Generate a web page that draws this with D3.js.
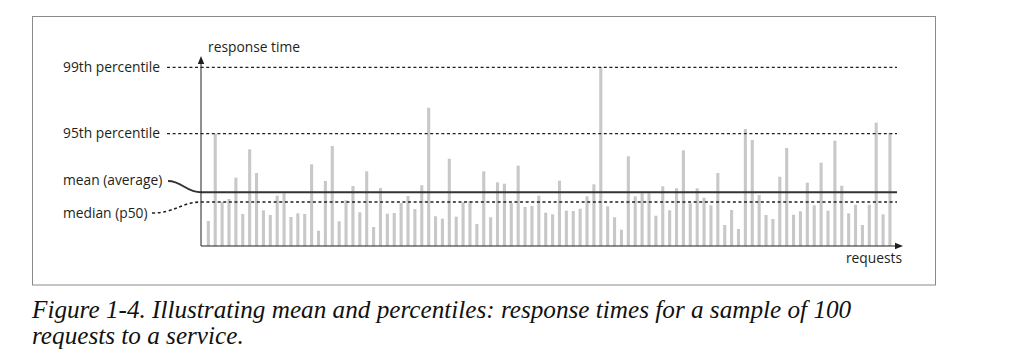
<!DOCTYPE html>
<html>
<head>
<meta charset="utf-8">
<script src="https://cdn.jsdelivr.net/npm/d3@7"></script>
<style>
  body { margin: 0; background: #fff; }
  svg { display: block; }
  .lbl { font-family: "Open Sans", sans-serif; font-size: 13.8px; fill: #231f20; }
  .caption { font-family: "Liberation Serif", serif; font-style: italic; font-size: 25.2px; fill: #111; }
</style>
</head>
<body>
<svg id="chart" width="1024" height="355"></svg>
<script>
// response times of 100 requests (arbitrary units)
const responseTimes = [
  25, 112.3, 44, 47, 68.3, 32, 96.7, 73, 35.7, 31, 50.3, 52.7, 29, 32.7, 32, 81.7, 15.3, 65, 100, 24.7, 45.7, 60, 33.7, 74.7, 19,
  58, 32.3, 33, 43, 50, 37, 60.7, 138.3, 29.7, 27.3, 87.3, 29.3, 43.7, 45, 22, 74.7, 28.7, 63.7, 62.3, 43, 80.3, 39, 40, 50.3, 33.3,
  31.7, 65.3, 35.3, 35, 37.3, 49.7, 61.7, 178.7, 39.7, 28.7, 16.3, 89.7, 49.7, 52.7, 52.7, 30.3, 59.7, 35.7, 57.7, 95.7, 42.7, 57.7, 48.3, 40.7, 73,
  21, 36, 17, 117, 106, 51, 31, 27, 69.3, 98, 31.3, 34.7, 63.3, 40.7, 83.3, 35.3, 105.3, 60.3, 32.7, 41.3, 21, 41.3, 123.3, 31.7, 112.7
];

const refNames = ["99th percentile", "95th percentile", "mean (average)", "median (p50)"];
const refValues = [178.7, 112.3, 53.7, 44];

const yTitle = "response time";
const xTitle = "requests";
const captionLines = [
  "Figure 1-4. Illustrating mean and percentiles: response times for a sample of 100",
  "requests to a service."
];

let svg = d3.select("#chart");

let x0 = 201, xEnd = 897, baseY = 246;

let x = d3.scaleBand()
  .domain(d3.range(responseTimes.length))
  .range([204.9, 893.4])
  .paddingInner(0.55)
  .paddingOuter(0.275);

let y = d3.scaleLinear()
  .domain([0, 190])
  .range([baseY, 56]);

// frame
svg.append("rect")
  .attr("x", 32.5).attr("y", 16.5)
  .attr("width", 903).attr("height", 268.5)
  .attr("fill", "none")
  .attr("stroke", "#8a8a8a")
  .attr("stroke-width", 1);

// bars
svg.append("g").selectAll("rect")
  .data(responseTimes)
  .enter()
  .append("rect")
  .attr("x", (d, i) => x(i))
  .attr("width", x.bandwidth())
  .attr("y", d => y(d))
  .attr("height", d => y(0) - y(d))
  .attr("fill", "#c8c8c8");

// percentile lines (dotted)
[0, 1].forEach(i => {
  svg.append("line")
    .attr("x1", 167).attr("x2", xEnd)
    .attr("y1", y(refValues[i])).attr("y2", y(refValues[i]))
    .attr("stroke", "#231f20")
    .attr("stroke-width", 1.3)
    .attr("stroke-dasharray", "3,2.6");
  svg.append("text")
    .attr("class", "lbl")
    .attr("x", 63)
    .attr("y", y(refValues[i]) + 4.5)
    .text(refNames[i]);
});

// mean: solid line with curved lead-in from its label
let ym = y(refValues[2]);
let pm = d3.path();
pm.moveTo(168, 181);
pm.bezierCurveTo(182, 181, 186, ym, x0, ym);
pm.lineTo(xEnd, ym);
svg.append("path")
  .attr("d", pm.toString())
  .attr("fill", "none")
  .attr("stroke", "#333")
  .attr("stroke-width", 2);
svg.append("text")
  .attr("class", "lbl")
  .attr("x", 63).attr("y", 185)
  .text(refNames[2]);

// median: dashed line with curved lead-in
let yd = y(refValues[3]);
let pd = d3.path();
pd.moveTo(152, 213);
pd.bezierCurveTo(175, 213, 182, yd, x0, yd);
pd.lineTo(xEnd, yd);
svg.append("path")
  .attr("d", pd.toString())
  .attr("fill", "none")
  .attr("stroke", "#231f20")
  .attr("stroke-width", 1.6)
  .attr("stroke-dasharray", "3,2.6");
svg.append("text")
  .attr("class", "lbl")
  .attr("x", 63).attr("y", 218)
  .text(refNames[3]);

// axes with arrowheads
let axisG = svg.append("g").attr("stroke", "#231f20").attr("fill", "none");
axisG.append("line")
  .attr("x1", x0).attr("x2", x0)
  .attr("y1", baseY).attr("y2", y(190) + 4);
axisG.append("line")
  .attr("x1", x0).attr("x2", 898)
  .attr("y1", baseY).attr("y2", baseY);
svg.append("path")
  .attr("d", `M${x0},${y(190)} L${x0 - 3.2},${y(190) + 8} L${x0 + 3.2},${y(190) + 8} Z`)
  .attr("fill", "#231f20");
svg.append("path")
  .attr("d", `M903,${baseY} L895,${baseY - 3.2} L895,${baseY + 3.2} Z`)
  .attr("fill", "#231f20");

svg.append("text")
  .attr("class", "lbl")
  .attr("x", 208).attr("y", 52)
  .text(yTitle);
svg.append("text")
  .attr("class", "lbl")
  .attr("x", 902).attr("y", 263)
  .attr("text-anchor", "end")
  .text(xTitle);

// caption
svg.append("g").selectAll("text")
  .data(captionLines)
  .enter()
  .append("text")
  .attr("class", "caption")
  .attr("x", 32)
  .attr("y", (d, i) => 318 + i * 26)
  .text(d => d);
</script>
</body>
</html>
